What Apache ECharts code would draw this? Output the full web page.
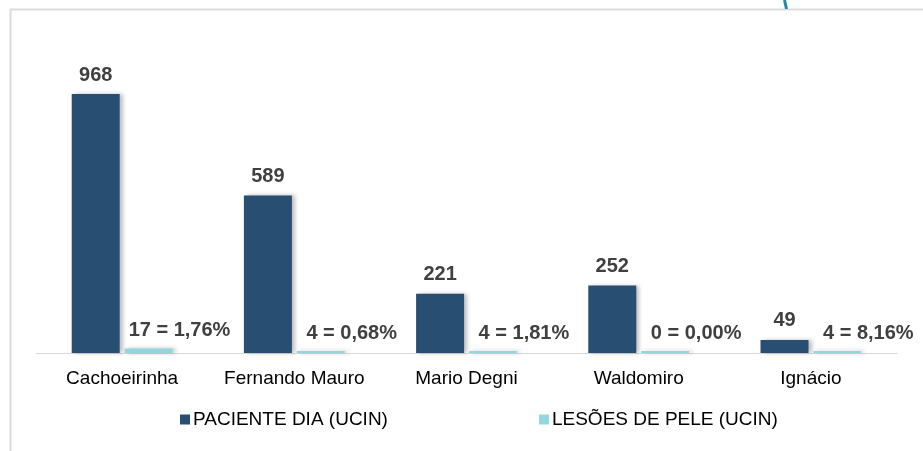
<!DOCTYPE html>
<html>
<head>
<meta charset="utf-8">
<script src="https://cdn.jsdelivr.net/npm/echarts@6/dist/echarts.min.js"></script>
<style>
  html, body { margin: 0; padding: 0; background: #fff; }
  #chart { width: 923px; height: 451px; }
</style>
</head>
<body>
<div id="chart"></div>
<script>
const categories = ['Cachoeirinha', 'Fernando Mauro', 'Mario Degni', 'Waldomiro', 'Ignácio'];
const pacienteDia = [968, 589, 221, 252, 49];
const lesoesPele = [17, 4, 4, 0, 4];
const lesoesPct = ['1,76%', '0,68%', '1,81%', '0,00%', '8,16%'];
const seriesNames = ['PACIENTE DIA (UCIN)', 'LESÕES DE PELE (UCIN)'];

const chart = echarts.init(document.getElementById('chart'));
const font = '"Liberation Sans", Arial, sans-serif';
const barShadow = {
  shadowColor: 'rgba(0,0,0,0.25)',
  shadowBlur: 4,
  shadowOffsetX: 3,
  shadowOffsetY: 0,
};

chart.setOption({
  animation: false,
  textStyle: { fontFamily: font },
  graphic: [
    // border of the original frame
    { type: 'line', shape: { x1: 10, y1: 9.5, x2: 923, y2: 9.5 }, style: { stroke: '#dcdcdc', lineWidth: 2 } },
    { type: 'line', shape: { x1: 10.5, y1: 9, x2: 10.5, y2: 451 }, style: { stroke: '#dcdcdc', lineWidth: 2 } },
    // small teal stroke cut at the top
    { type: 'line', shape: { x1: 784.5, y1: 0, x2: 786.5, y2: 9 }, style: { stroke: '#1f8aa5', lineWidth: 3 } },
  ],
  grid: { left: 36, right: 26, top: 94, bottom: 98 },
  legend: {
    left: 180,
    top: 410,
    padding: 0,
    itemWidth: 10,
    itemHeight: 10,
    itemGap: 151,
    icon: 'rect',
    textStyle: { fontSize: 19, color: '#000', fontFamily: font, padding: [0, 0, 0, -2] },
    data: seriesNames,
  },
  xAxis: {
    type: 'category',
    data: categories,
    axisLine: { lineStyle: { color: '#d9d9d9', width: 1 } },
    axisTick: { show: false },
    axisLabel: { interval: 0, fontSize: 19, color: '#000', margin: 16, fontFamily: font },
  },
  yAxis: {
    type: 'value',
    min: 0,
    max: 968,
    show: false,
    splitLine: { show: false },
  },
  series: [
    {
      name: seriesNames[0],
      type: 'bar',
      data: pacienteDia,
      barWidth: 48,
      barGap: '10%',
      itemStyle: Object.assign({ color: '#284e72' }, barShadow),
      label: {
        show: true,
        position: 'top',
        distance: 9,
        fontSize: 20,
        fontWeight: 'bold',
        color: '#404040',
        fontFamily: font,
      },
    },
    {
      name: seriesNames[1],
      type: 'bar',
      data: lesoesPele,
      barWidth: 48,
      barMinHeight: 2,
      itemStyle: Object.assign({ color: '#93d6de' }, barShadow),
      label: {
        show: true,
        position: 'top',
        distance: 8,
        offset: [31, 0],
        fontSize: 20,
        fontWeight: 'bold',
        color: '#404040',
        fontFamily: font,
        formatter: p => lesoesPele[p.dataIndex] + ' = ' + lesoesPct[p.dataIndex],
      },
    },
  ],
});
</script>
</body>
</html>
